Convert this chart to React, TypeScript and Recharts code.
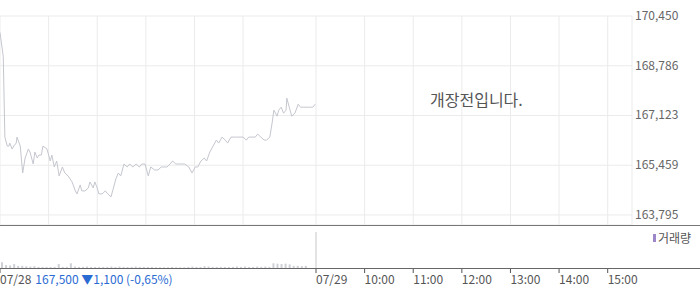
import { LineChart, Line, XAxis, YAxis, CartesianGrid, BarChart, Bar, ReferenceLine } from 'recharts';

const FONT = '"Noto Sans CJK KR", "DejaVu Sans", sans-serif';

// minutes since 09:00 on 07/28 (390 = 07/29 09:00)
const priceTimes = [
  0, 4, 6, 9, 11, 12, 15, 17, 20, 21,
  25, 28, 31, 35, 37, 41, 43, 46, 48, 51,
  53, 58, 62, 64, 67, 70, 73, 77, 80, 84,
  89, 93, 95, 99, 101, 105, 109, 111, 115, 117,
  120, 122, 126, 130, 133, 137, 139, 143, 146, 149,
  153, 157, 160, 164, 168, 172, 175, 179, 183, 186,
  191, 195, 199, 202, 206, 210, 213, 217, 221, 225,
  228, 233, 237, 241, 244, 248, 252, 255, 259, 263,
  267, 270, 274, 278, 281, 285, 289, 292, 296, 300,
  304, 307, 311, 315, 318, 322, 326, 329, 333, 336,
  338, 342, 344, 347, 350, 353, 354, 357, 360, 364,
  368, 371, 375, 379, 383, 386, 389,
];

const prices = [
  169900, 169100, 166400, 166100, 166100, 166200, 166000, 166100, 166200, 166400,
  166100, 165200, 165700, 166000, 165900, 165500, 165900, 165700, 165800, 165800,
  166100, 166000, 165600, 165800, 165400, 165600, 165100, 165400, 165200, 165100,
  164900, 164600, 164500, 164800, 164600, 164600, 164700, 164900, 164700, 164900,
  164700, 164500, 164500, 164600, 164500, 164400, 164600, 165000, 165200, 165100,
  165500, 165400, 165500, 165400, 165500, 165400, 165500, 165500, 165100, 165400,
  165300, 165300, 165400, 165400, 165400, 165500, 165600, 165500, 165500, 165500,
  165500, 165400, 165200, 165400, 165400, 165600, 165700, 165600, 165900, 166100,
  166300, 166200, 166400, 166300, 166200, 166400, 166400, 166400, 166400, 166400,
  166300, 166400, 166400, 166400, 166500, 166400, 166300, 166300, 166400, 166900,
  167300, 167100, 167300, 167400, 167200, 167300, 167700, 167400, 167100, 167200,
  167500, 167400, 167400, 167400, 167400, 167400, 167500,
];

// 5-minute volume bins for 07/28 (relative units)
const volumes = [
  16, 8, 7, 11, 6, 6, 5, 4, 5, 3,
  3, 3, 3, 3, 11, 3, 3, 13, 4, 3,
  3, 4, 3, 3, 3, 3, 3, 4, 3, 4,
  3, 3, 3, 4, 3, 3, 3, 3, 2, 2,
  2, 2, 3, 2, 2, 2, 3, 4, 3, 3,
  5, 4, 3, 3, 3, 3, 3, 3, 4, 3,
  4, 3, 3, 4, 3, 4, 3, 13, 12, 11,
  12, 10, 6, 6, 5, 6, 0, 0,
];

const priceTicks = [163795, 165459, 167123, 168786, 170450];
const gridTicks = [60, 120, 180, 240, 300, 360, 390, 450, 510, 570, 630, 690, 750];
const labelTicks = [0, 390, 450, 510, 570, 630, 690, 750];
const dayLabels = ['07/28', '07/29'];
const lastClose = '167,500';
const lastChange = '▼1,100 (-0,65%)';

const priceData = priceTimes.map((t, i) => ({ t, price: prices[i] }));
const volumeData = volumes.map((v, i) => ({ t: i * 5 + 2.5, volume: v }));

const fmt = (v: number) => v.toLocaleString('en-US');

const timeLabel = (v: number) => {
  if (v === 0) return dayLabels[0];
  if (v === 390) return dayLabels[1];
  const h = 9 + (v - 390) / 60;
  return `${h}:00`;
};

const PriceTick = (props: any) => {
  const { x, y, payload } = props;
  return (
    <text x={x} y={y} dy={4} textAnchor="start" fill="#666" fontSize={12} fontFamily={FONT}>
      {fmt(payload.value)}
    </text>
  );
};

const TimeTick = (props: any) => {
  const { x, y, payload } = props;
  return (
    <text x={x} y={y} dy="0.75em" textAnchor="start" fill="#555" fontSize={12} fontFamily={FONT}>
      {timeLabel(payload.value)}
      {payload.value === 0 && (
        <tspan fill="#2a6bd3" dx={4}>
          {lastClose} {lastChange}
        </tspan>
      )}
    </text>
  );
};

export default function App() {
  return (
    <div style={{ position: 'absolute', left: 0, top: 0, width: 700, height: 289, background: '#fff', fontFamily: FONT }}>
      <LineChart width={700} height={226} data={priceData} margin={{ top: 16, right: 0, bottom: 1, left: 0 }}>
        <CartesianGrid stroke="#ebebeb" />
        <XAxis dataKey="t" type="number" domain={[0, 780]} ticks={gridTicks} hide />
        <YAxis
          orientation="right"
          width={68}
          domain={[163460, 170450]}
          ticks={priceTicks}
          axisLine={false}
          tickLine={false}
          tickSize={0}
          tickMargin={3}
          tick={<PriceTick />}
        />
        <Line dataKey="price" type="linear" stroke="#c5c7cf" strokeWidth={1} dot={false} isAnimationActive={false} />
      </LineChart>

      <div style={{ position: 'absolute', left: 0, top: 225, width: 700, height: 1, background: '#777' }} />

      <div style={{ position: 'absolute', left: 0, top: 226 }}>
        <BarChart width={700} height={63} data={volumeData} margin={{ top: 6, right: 68, bottom: 0, left: 0 }}>
          <XAxis
            dataKey="t"
            type="number"
            domain={[0, 780]}
            ticks={labelTicks}
            height={21}
            axisLine={false}
            tickLine={{ stroke: '#555' }}
            tickSize={5}
            tickMargin={2}
            tick={<TimeTick />}
            interval={0}
          />
          <YAxis hide domain={[0, 100]} />
          <ReferenceLine segment={[{ x: 390, y: 0 }, { x: 390, y: 100 }]} stroke="#c8c8c8" />
          <Bar dataKey="volume" fill="#cdd0d6" barSize={2} isAnimationActive={false} />
        </BarChart>
      </div>

      <div style={{ position: 'absolute', left: 0, top: 268, width: 700, height: 1, background: '#666' }} />

      <div style={{ position: 'absolute', left: 653, top: 231, display: 'flex', alignItems: 'center', fontSize: 12, color: '#555', lineHeight: '14px' }}>
        <span style={{ display: 'inline-block', width: 3, height: 8, background: '#9c86c9', marginRight: 2 }} />
        거래량
      </div>

      <div style={{ position: 'absolute', left: 430, top: 89, fontSize: 16, color: '#555', lineHeight: '20px', whiteSpace: 'nowrap' }}>
        개장전입니다.
      </div>
    </div>
  );
}
